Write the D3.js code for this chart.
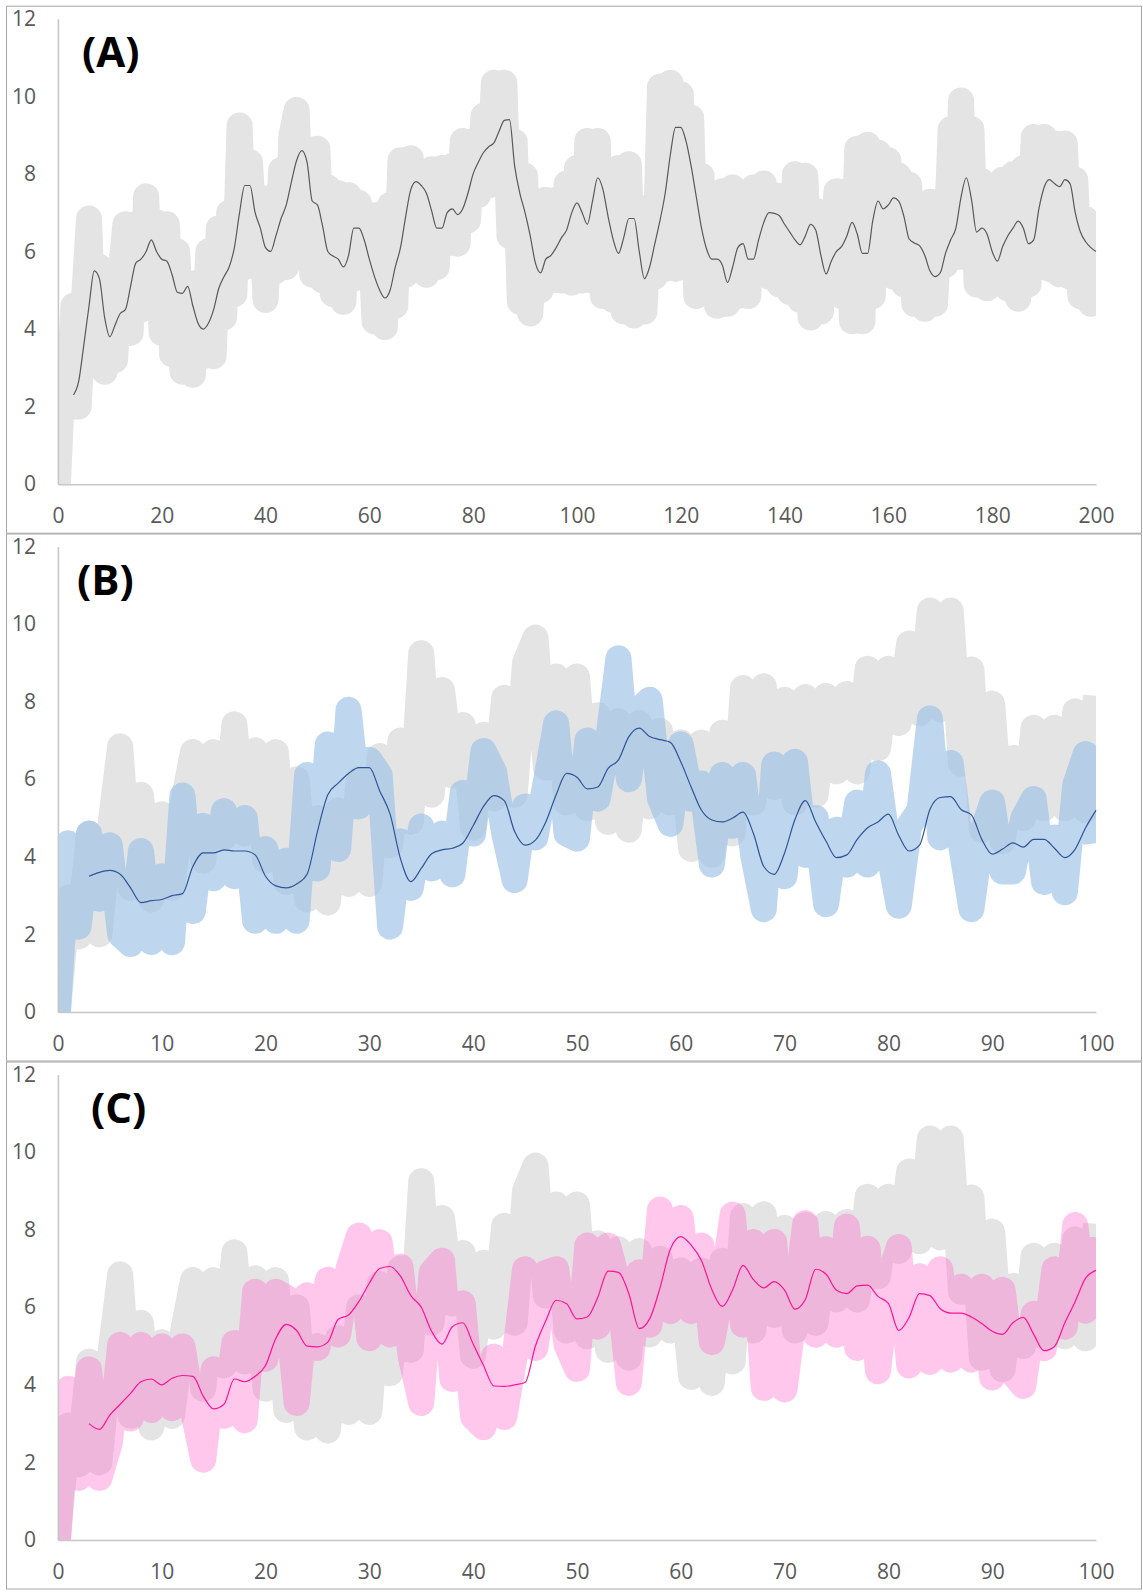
<!DOCTYPE html>
<html>
<head>
<meta charset="utf-8">
<script src="https://cdn.jsdelivr.net/npm/d3@7"></script>
<style>
  body { margin: 0; background: #fff; }
  text { font-family: "Open Sans", "Liberation Sans", sans-serif; }
</style>
</head>
<body>
<div id="chart"></div>
<script>
// raw series (thick bands), one value per unit step starting at x = 0
const grayRaw = [
  0, 2.95, 1.95, 4.6, 2.0, 4.7, 6.85, 3.2, 5.6, 2.9, 5.1,
  3.2, 5.3, 6.7, 3.9, 6.7, 4.5, 7.42, 4.6, 6.75, 3.9,
  6.7, 3.35, 6.0, 2.9, 5.0, 2.82, 5.2, 3.3, 6.0, 3.3,
  6.6, 4.3, 7.0, 4.9, 9.25, 5.6, 8.3, 6.1, 7.4, 4.75,
  7.15, 5.5, 8.1, 5.6, 9.0, 9.65, 6.3, 8.65, 5.4, 8.65,
  5.25, 7.65, 4.9, 7.5, 4.7, 7.45, 5.3, 7.25, 5.4, 6.95,
  4.2, 6.95, 4.05, 7.2, 4.6, 8.35, 5.4, 8.4, 5.8, 8.05,
  5.4, 8.12, 5.6, 8.15, 6.2, 8.2, 6.2, 8.85, 6.8, 8.85,
  7.45, 9.5, 7.7, 10.35, 7.8, 10.35, 6.4, 8.83, 4.7, 7.95,
  4.4, 6.55, 5.0, 7.33, 5.25, 7.33, 5.25, 7.75, 5.2, 8.15,
  5.25, 8.85, 5.25, 8.85, 4.85, 7.95, 4.75, 8.15, 4.45, 8.25,
  4.35, 6.5, 4.45, 7.15, 5.35, 10.25, 5.55, 10.35, 5.55, 10.05,
  5.85, 9.45, 4.85, 7.95, 4.95, 6.85, 4.6, 7.55, 4.65, 7.65,
  4.85, 7.25, 4.85, 7.65, 5.55, 7.75, 5.35, 7.45, 5.15, 7.45,
  4.95, 7.99, 4.75, 7.95, 4.3, 7.05, 4.45, 6.95, 5.35, 7.55,
  4.85, 7.55, 4.2, 8.65, 4.2, 8.75, 4.85, 8.55, 6.1, 8.35,
  5.35, 7.95, 5.15, 7.72, 4.65, 6.85, 4.52, 7.28, 4.65, 7.28,
  5.65, 9.15, 5.85, 9.89, 5.85, 9.15, 5.15, 7.81, 5.05, 7.45,
  5.35, 7.85, 5.05, 7.99, 4.78, 8.15, 5.15, 8.95, 6.1, 8.95,
  5.55, 8.78, 5.41, 8.78, 5.35, 7.85, 4.85, 6.83, 4.65, 6.83
];
const blueRaw = [
  0, 4.35, 2.2, 4.6, 2.92, 4.3, 2.0, 1.75, 4.15, 1.8, 3.5,
  1.8, 5.58, 2.6, 4.8, 3.45, 5.18, 3.5, 5.0, 2.35, 4.2,
  2.35, 3.9, 2.35, 6.11, 3.7, 6.9, 4.2, 7.79, 5.3, 6.5,
  6.11, 2.2, 4.4, 3.2, 4.78, 3.7, 4.6, 3.55, 5.65, 4.6,
  6.73, 6.2, 4.6, 3.4, 5.3, 4.5, 5.93, 7.44, 4.6, 4.47,
  7.0, 5.5, 7.0, 9.12, 6.0, 7.8, 8.05, 5.5, 4.85, 6.9,
  5.5, 5.89, 3.8, 6.11, 4.8, 6.11, 4.0, 2.65, 6.38, 3.5,
  6.45, 4.05, 5.0, 2.78, 4.7, 3.8, 5.4, 3.8, 6.15, 4.2,
  2.74, 4.8, 5.2, 7.57, 4.5, 6.42, 4.3, 2.65, 4.6, 5.4,
  3.62, 3.62, 5.0, 5.49, 3.35, 4.5, 3.09, 5.85, 6.65, 4.35
];
const pinkRaw = [
  0, 3.9, 1.6, 4.4, 1.6, 2.5, 5.03, 3.13, 5.03, 3.35, 4.99,
  3.4, 4.99, 3.35, 2.07, 4.4, 3.2, 5.08, 3.09, 6.4, 4.67,
  6.4, 6.25, 3.53, 6.31, 4.95, 6.71, 5.3, 7.0, 7.85, 5.2,
  7.68, 5.3, 7.05, 4.7, 3.53, 6.9, 7.2, 4.15, 6.1, 3.17,
  2.91, 4.73, 3.17, 4.73, 6.98, 4.95, 6.89, 6.98, 5.03, 4.41,
  7.59, 5.5, 7.59, 6.6, 4.05, 6.9, 5.55, 8.52, 5.9, 8.3,
  5.9, 7.59, 5.1, 6.53, 8.39, 5.55, 7.68, 3.92, 7.68, 3.88,
  6.0, 8.17, 5.29, 7.5, 5.29, 8.08, 4.95, 7.51, 4.35, 6.7,
  7.55, 4.5, 6.8, 4.59, 6.98, 4.65, 6.53, 4.65, 6.53, 4.19,
  6.45, 4.3, 3.97, 5.83, 4.95, 6.98, 5.5, 8.12, 5.91, 7.8
];

// smoothed series (thin lines), one value per unit step starting at x = avgStart
const avgStart = 3;
const grayAvg = [
  2.3, 2.65, 3.6, 4.6, 5.5, 5.3, 4.3, 3.8, 4.1, 4.4,
  4.5, 5.1, 5.7, 5.8, 6.0, 6.3, 6.0, 5.8, 5.75, 5.4,
  4.95, 4.92, 5.1, 4.6, 4.15, 4.0, 4.15, 4.5, 5.05, 5.35,
  5.6, 6.1, 7.0, 7.7, 7.7, 7.0, 6.6, 6.1, 6.0, 6.4,
  6.85, 7.2, 7.8, 8.35, 8.6, 8.3, 7.3, 7.2, 6.65, 6.0,
  5.88, 5.8, 5.6, 5.9, 6.6, 6.6, 6.3, 5.8, 5.35, 5.0,
  4.8, 5.0, 5.6, 6.1, 6.9, 7.6, 7.8, 7.7, 7.5, 7.05,
  6.6, 6.6, 7.0, 7.1, 6.95, 7.1, 7.5, 8.0, 8.3, 8.55,
  8.7, 8.8, 9.1, 9.38, 9.4, 8.2, 7.5, 7.0, 6.4, 5.7,
  5.45, 5.8, 5.9, 6.1, 6.35, 6.55, 7.0, 7.25, 7.0, 6.7,
  7.3, 7.9, 7.6, 6.9, 6.3, 5.95, 6.35, 6.85, 6.85, 6.0,
  5.3, 5.6, 6.2, 6.8, 7.5, 8.5, 9.2, 9.2, 8.85, 8.2,
  7.4, 6.6, 6.05, 5.8, 5.8, 5.65, 5.2, 5.6, 6.1, 6.2,
  5.8, 5.8, 6.3, 6.75, 7.0, 6.98, 6.92, 6.7, 6.5, 6.3,
  6.17, 6.4, 6.7, 6.55, 5.9, 5.42, 5.75, 6.0, 6.13, 6.4,
  6.75, 6.45, 5.95, 5.95, 6.8, 7.3, 7.1, 7.2, 7.38, 7.3,
  6.9, 6.32, 6.22, 6.15, 5.9, 5.5, 5.35, 5.45, 5.95, 6.3,
  6.6, 7.4, 7.9, 7.35, 6.5, 6.6, 6.45, 6.0, 5.75, 6.12,
  6.4, 6.6, 6.78, 6.6, 6.2, 6.3, 7.1, 7.65, 7.85, 7.75,
  7.67, 7.85, 7.75, 7.0, 6.5, 6.25, 6.1, 6.0
];
const blueAvg = [
  3.5, 3.6, 3.65, 3.55, 3.2, 2.82, 2.87, 2.9, 3.0, 3.05,
  3.75, 4.1, 4.1, 4.18, 4.15, 4.15, 4.05, 3.5, 3.25, 3.2,
  3.3, 3.55, 4.65, 5.6, 5.9, 6.15, 6.3, 6.3, 5.7, 5.1,
  3.95, 3.36, 3.7, 4.08, 4.18, 4.22, 4.35, 4.8, 5.3, 5.58,
  5.45, 4.65, 4.3, 4.43, 4.9, 5.6, 6.15, 6.05, 5.75, 5.8,
  6.28, 6.5, 7.1, 7.32, 7.1, 7.02, 6.95, 6.45, 5.8, 5.2,
  4.95, 4.9, 5.0, 5.15, 4.6, 3.75, 3.55, 4.1, 4.96, 5.45,
  4.9, 4.4, 3.98, 4.05, 4.45, 4.75, 4.9, 5.1, 4.55, 4.15,
  4.3, 5.22, 5.53, 5.55, 5.22, 5.08, 4.45, 4.07, 4.2, 4.36,
  4.25, 4.45, 4.45, 4.22, 3.98, 4.2, 4.75, 5.2
];
const pinkAvg = [
  3.0, 2.85, 3.22, 3.5, 3.78, 4.08, 4.15, 4.0, 4.17, 4.24,
  4.22, 3.71, 3.38, 3.5, 4.15, 4.08, 4.22, 4.5, 5.2, 5.56,
  5.4, 5.0, 4.98, 5.1, 5.69, 5.8, 6.15, 6.62, 7.0, 7.05,
  6.8, 6.3, 6.0, 5.38, 5.05, 5.5, 5.6, 5.05, 4.5, 3.97,
  3.96, 4.0, 4.06, 5.0, 5.65, 6.18, 6.09, 5.7, 5.75, 6.25,
  6.93, 6.9, 6.35, 5.45, 5.7, 6.5, 7.5, 7.82, 7.6, 7.2,
  6.45, 6.02, 6.45, 7.08, 6.71, 6.5, 6.66, 6.44, 5.95, 6.2,
  6.98, 6.85, 6.44, 6.35, 6.55, 6.57, 6.28, 6.1, 5.4, 5.74,
  6.35, 6.3, 5.96, 5.85, 5.85, 5.75, 5.58, 5.38, 5.3, 5.6,
  5.74, 5.3, 4.88, 4.99, 5.6, 6.15, 6.75, 6.95
];

const yTicks = [0, 2, 4, 6, 8, 10, 12];
const xTicksA = [0, 20, 40, 60, 80, 100, 120, 140, 160, 180, 200];
const xTicksBC = [0, 10, 20, 30, 40, 50, 60, 70, 80, 90, 100];
const panelLabels = ["(A)", "(B)", "(C)"];


class BandPanel {
    constructor(svg, top, opts){
        this.svg = svg;
        this.top = top;
        this.opts = opts;
        this.g;
        this.xScale;
        this.yScale;
    }

    init(){
        this.left = 57.9;
        this.right = 1096;
        this.yTop = this.top + 13;
        this.yBottom = this.top + 478.5;

        this.xScale = d3.scaleLinear().domain([0, this.opts.xMax]).range([this.left, this.right]);
        this.yScale = d3.scaleLinear().domain([0, 12]).range([this.yBottom, this.yTop]);

        this.g = this.svg.append("g").attr("class", "panel");

        this.g.append("rect")
            .attr("x", 6.5).attr("y", this.top + 0.5)
            .attr("width", 1135).attr("height", 527)
            .attr("fill", "#fff")
            .attr("stroke", "#a6a6a6")
            .attr("stroke-width", 1);

        this.g.append("clipPath")
            .attr("id", "clip" + this.opts.id)
            .append("rect")
            .attr("x", this.left)
            .attr("y", this.yTop - 40)
            .attr("width", this.right - this.left)
            .attr("height", this.yBottom - this.yTop + 40);
    }

    drawAxes(){
        let xAxis = d3.axisBottom(this.xScale).tickValues(this.opts.xTicks)
                        .tickSize(0).tickSizeOuter(0).tickPadding(24);
        let yAxis = d3.axisLeft(this.yScale).tickValues(yTicks)
                        .tickSize(0).tickSizeOuter(0).tickPadding(22);

        let gx = this.g.append("g")
            .attr("transform", "translate(0," + this.yBottom + ")")
            .call(xAxis);
        let gy = this.g.append("g")
            .attr("transform", "translate(" + this.left + ",0)")
            .call(yAxis);

        [gx, gy].forEach(ax => {
            ax.select(".domain").attr("stroke", "#c8c8c8").attr("stroke-width", 1.6);
            ax.selectAll("text")
                .attr("fill", "#595959")
                .style("font-size", "21px")
                .style("font-family", "'Open Sans', 'Liberation Sans', sans-serif");
        });
    }

    drawBands(){
        let band = d3.line()
            .x((d, i) => this.xScale(i))
            .y(d => this.yScale(d));

        let holder = this.g.append("g").attr("clip-path", "url(#clip" + this.opts.id + ")");

        this.opts.bands.forEach(b => {
            holder.append("path")
                .datum(b.data)
                .attr("d", band)
                .attr("fill", "none")
                .attr("stroke", b.color)
                .attr("stroke-opacity", b.opacity)
                .attr("stroke-width", 26)
                .attr("stroke-linejoin", "round")
                .attr("stroke-linecap", "butt");
        });
    }

    drawLine(){
        let line = d3.line()
            .curve(d3.curveMonotoneX)
            .x((d, i) => this.xScale(avgStart + i))
            .y(d => this.yScale(d));

        this.g.append("path")
            .datum(this.opts.avg)
            .attr("d", line)
            .attr("fill", "none")
            .attr("stroke", this.opts.lineColor)
            .attr("stroke-width", 1.2)
            .attr("stroke-linejoin", "round");
    }

    drawLabel(){
        this.g.append("text")
            .attr("x", this.opts.labelX)
            .attr("y", this.top + 61)
            .attr("fill", "#000")
            .style("font-size", "42px")
            .style("font-weight", 700)
            .text(this.opts.label);
    }

    draw(){
        this.init();
        this.drawBands();
        this.drawAxes();
        this.drawLine();
        this.drawLabel();
    }
}


const svg = d3.select("#chart").append("svg")
    .attr("width", 1143)
    .attr("height", 1592);

svg.append("rect").attr("width", 1143).attr("height", 1592).attr("fill", "#fff");

const panelTops = [5.7, 533.5, 1061.5];
const grayHalf = grayRaw.slice(0, 101);

const configs = [
    { id: "A", xMax: 200, xTicks: xTicksA, label: panelLabels[0], labelX: 82,
      bands: [{ data: grayRaw, color: "#e4e4e4", opacity: 1 }],
      avg: grayAvg, lineColor: "#595959" },
    { id: "B", xMax: 100, xTicks: xTicksBC, label: panelLabels[1], labelX: 77,
      bands: [{ data: grayHalf, color: "#e4e4e4", opacity: 1 },
              { data: blueRaw, color: "#9dc3e6", opacity: 0.66 }],
      avg: blueAvg, lineColor: "#2f5597" },
    { id: "C", xMax: 100, xTicks: xTicksBC, label: panelLabels[2], labelX: 91,
      bands: [{ data: grayHalf, color: "#e4e4e4", opacity: 1 },
              { data: pinkRaw, color: "#ff66cc", opacity: 0.37 }],
      avg: pinkAvg, lineColor: "#ff1493" }
];

configs.forEach((c, i) => {
    let p = new BandPanel(svg, panelTops[i], c);
    p.draw();
});
</script>
</body>
</html>
